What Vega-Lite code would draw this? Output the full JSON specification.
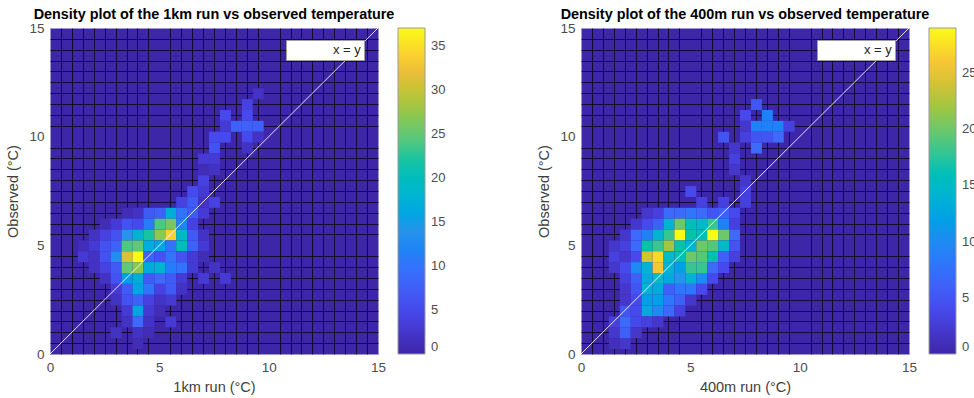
{
  "$schema": "https://vega.github.io/schema/vega-lite/v6.json",
  "padding": {"left": 5, "top": 6, "right": 0, "bottom": 0},
  "background": "white",
  "config": {
    "font": "Liberation Sans",
    "view": {"fill": "#3e26a8", "stroke": "#9c98d0", "strokeWidth": 1},
    "axis": {
      "values": [0, 5, 10, 15, 0.25, 0.75, 1.25, 1.75, 2.25, 2.75, 3.25, 3.75, 4.25, 4.75, 5.25, 5.75, 6.25, 6.75, 7.25, 7.75, 8.25, 8.75, 9.25, 9.75, 10.25, 10.75, 11.25, 11.75, 12.25, 12.75, 13.25, 13.75, 14.25, 14.75],
      "labelExpr": "datum.value % 5 === 0 ? format(datum.value, 'd') : ''",
      "ticks": false,
      "domain": false,
      "grid": true,
      "gridColor": "black",
      "gridWidth": 1,
      "gridOpacity": {"condition": {"test": "datum.value % 5 === 0", "value": 0}, "value": 0.7},
      "zindex": 1,
      "labelFlush": false,
      "labelOverlap": false,
      "labelBound": false,
      "labelFontSize": 13.5,
      "labelColor": "#4d4d4d",
      "labelPadding": 6,
      "titleFontSize": 14.5,
      "titleFontWeight": "normal",
      "titleColor": "#404040"
    },
    "axisX": {"titlePadding": 7},
    "axisY": {"titlePadding": 8},
    "title": {"fontSize": 14.4, "fontWeight": "bold", "color": "black", "anchor": "middle", "offset": -1},
    "legend": {"labelFontSize": 13, "labelColor": "#4d4d4d"}
  },
  "datasets": {
    "km": [
      {"x": 9.5, "y": 12, "n": 2},
      {"x": 9, "y": 11.5, "n": 4},
      {"x": 8, "y": 11, "n": 5}, {"x": 9, "y": 11, "n": 5},
      {"x": 8, "y": 10.5, "n": 3}, {"x": 8.5, "y": 10.5, "n": 8}, {"x": 9, "y": 10.5, "n": 8}, {"x": 9.5, "y": 10.5, "n": 8},
      {"x": 7.5, "y": 10, "n": 5}, {"x": 8, "y": 10, "n": 5}, {"x": 9, "y": 10, "n": 5}, {"x": 9.5, "y": 10, "n": 2},
      {"x": 7.5, "y": 9.5, "n": 6}, {"x": 9, "y": 9.5, "n": 2},
      {"x": 7, "y": 9, "n": 3}, {"x": 7.5, "y": 9, "n": 3},
      {"x": 7, "y": 8.5, "n": 1}, {"x": 7.5, "y": 8.5, "n": 2},
      {"x": 7, "y": 8, "n": 4},
      {"x": 6.5, "y": 7.5, "n": 5}, {"x": 7, "y": 7.5, "n": 3},
      {"x": 6, "y": 7, "n": 4}, {"x": 6.5, "y": 7, "n": 7}, {"x": 7, "y": 7, "n": 2}, {"x": 7.5, "y": 7, "n": 4},
      {"x": 3.5, "y": 6.5, "n": 1}, {"x": 4, "y": 6.5, "n": 2}, {"x": 4.5, "y": 6.5, "n": 7}, {"x": 5, "y": 6.5, "n": 8}, {"x": 5.5, "y": 6.5, "n": 17}, {"x": 6, "y": 6.5, "n": 10}, {"x": 6.5, "y": 6.5, "n": 7}, {"x": 7, "y": 6.5, "n": 3},
      {"x": 2.5, "y": 6, "n": 1}, {"x": 3, "y": 6, "n": 3}, {"x": 3.5, "y": 6, "n": 6}, {"x": 4, "y": 6, "n": 5}, {"x": 4.5, "y": 6, "n": 11}, {"x": 5, "y": 6, "n": 24}, {"x": 5.5, "y": 6, "n": 26}, {"x": 6, "y": 6, "n": 12}, {"x": 6.5, "y": 6, "n": 4},
      {"x": 2, "y": 5.5, "n": 2}, {"x": 2.5, "y": 5.5, "n": 4}, {"x": 3, "y": 5.5, "n": 6}, {"x": 3.5, "y": 5.5, "n": 14}, {"x": 4, "y": 5.5, "n": 18}, {"x": 4.5, "y": 5.5, "n": 22}, {"x": 5, "y": 5.5, "n": 27}, {"x": 5.5, "y": 5.5, "n": 34}, {"x": 6, "y": 5.5, "n": 19}, {"x": 6.5, "y": 5.5, "n": 7}, {"x": 7, "y": 5.5, "n": 2},
      {"x": 1.5, "y": 5, "n": 1}, {"x": 2, "y": 5, "n": 3}, {"x": 2.5, "y": 5, "n": 6}, {"x": 3, "y": 5, "n": 8}, {"x": 3.5, "y": 5, "n": 24}, {"x": 4, "y": 5, "n": 25}, {"x": 4.5, "y": 5, "n": 17}, {"x": 5, "y": 5, "n": 16}, {"x": 5.5, "y": 5, "n": 10}, {"x": 6, "y": 5, "n": 20}, {"x": 6.5, "y": 5, "n": 8}, {"x": 7, "y": 5, "n": 3},
      {"x": 1.5, "y": 4.5, "n": 3}, {"x": 2, "y": 4.5, "n": 2}, {"x": 2.5, "y": 4.5, "n": 6}, {"x": 3, "y": 4.5, "n": 13}, {"x": 3.5, "y": 4.5, "n": 31}, {"x": 4, "y": 4.5, "n": 37}, {"x": 4.5, "y": 4.5, "n": 8}, {"x": 5, "y": 4.5, "n": 6}, {"x": 5.5, "y": 4.5, "n": 10}, {"x": 6, "y": 4.5, "n": 6}, {"x": 6.5, "y": 4.5, "n": 3}, {"x": 7, "y": 4.5, "n": 1},
      {"x": 2, "y": 4, "n": 2}, {"x": 2.5, "y": 4, "n": 4}, {"x": 3, "y": 4, "n": 7}, {"x": 3.5, "y": 4, "n": 25}, {"x": 4, "y": 4, "n": 27}, {"x": 4.5, "y": 4, "n": 17}, {"x": 5, "y": 4, "n": 18}, {"x": 5.5, "y": 4, "n": 11}, {"x": 6, "y": 4, "n": 10}, {"x": 6.5, "y": 4, "n": 3}, {"x": 7.5, "y": 4, "n": 2},
      {"x": 2.5, "y": 3.5, "n": 2}, {"x": 3, "y": 3.5, "n": 6}, {"x": 3.5, "y": 3.5, "n": 15}, {"x": 4, "y": 3.5, "n": 17}, {"x": 4.5, "y": 3.5, "n": 7}, {"x": 5, "y": 3.5, "n": 9}, {"x": 5.5, "y": 3.5, "n": 7}, {"x": 6, "y": 3.5, "n": 3}, {"x": 7, "y": 3.5, "n": 3}, {"x": 8, "y": 3.5, "n": 3},
      {"x": 3, "y": 3, "n": 3}, {"x": 3.5, "y": 3, "n": 7}, {"x": 4, "y": 3, "n": 16}, {"x": 4.5, "y": 3, "n": 10}, {"x": 5, "y": 3, "n": 4}, {"x": 5.5, "y": 3, "n": 7}, {"x": 6, "y": 3, "n": 2},
      {"x": 3, "y": 2.5, "n": 2}, {"x": 3.5, "y": 2.5, "n": 6}, {"x": 4, "y": 2.5, "n": 8}, {"x": 4.5, "y": 2.5, "n": 4}, {"x": 5, "y": 2.5, "n": 2}, {"x": 5.5, "y": 2.5, "n": 3},
      {"x": 3.5, "y": 2, "n": 3}, {"x": 4, "y": 2, "n": 16}, {"x": 4.5, "y": 2, "n": 3}, {"x": 5, "y": 2, "n": 1},
      {"x": 3.5, "y": 1.5, "n": 2}, {"x": 4, "y": 1.5, "n": 9}, {"x": 4.5, "y": 1.5, "n": 2}, {"x": 5.5, "y": 1.5, "n": 3},
      {"x": 3, "y": 1, "n": 2}, {"x": 4, "y": 1, "n": 2}, {"x": 4.5, "y": 1, "n": 1},
      {"x": 4, "y": 0.5, "n": 1}
    ],
    "m": [
      {"x": 8, "y": 11.5, "n": 5},
      {"x": 7.5, "y": 11, "n": 4}, {"x": 8.5, "y": 11, "n": 9},
      {"x": 7.5, "y": 10.5, "n": 2}, {"x": 8, "y": 10.5, "n": 9}, {"x": 8.5, "y": 10.5, "n": 9}, {"x": 9, "y": 10.5, "n": 9}, {"x": 9.5, "y": 10.5, "n": 3},
      {"x": 6.5, "y": 10, "n": 5}, {"x": 7.5, "y": 10, "n": 3}, {"x": 8, "y": 10, "n": 5}, {"x": 8.5, "y": 10, "n": 5}, {"x": 9, "y": 10, "n": 7},
      {"x": 7, "y": 9.5, "n": 2}, {"x": 8, "y": 9.5, "n": 7},
      {"x": 7, "y": 9, "n": 3},
      {"x": 7, "y": 8.5, "n": 2},
      {"x": 7.5, "y": 8, "n": 2},
      {"x": 5, "y": 7.5, "n": 4}, {"x": 7.5, "y": 7.5, "n": 3},
      {"x": 5.5, "y": 7, "n": 3}, {"x": 6.5, "y": 7, "n": 3}, {"x": 7.5, "y": 7, "n": 3},
      {"x": 3, "y": 6.5, "n": 2}, {"x": 3.5, "y": 6.5, "n": 3}, {"x": 4, "y": 6.5, "n": 7}, {"x": 4.5, "y": 6.5, "n": 7}, {"x": 5, "y": 6.5, "n": 8}, {"x": 5.5, "y": 6.5, "n": 7}, {"x": 6, "y": 6.5, "n": 5}, {"x": 6.5, "y": 6.5, "n": 6}, {"x": 7, "y": 6.5, "n": 4},
      {"x": 2.5, "y": 6, "n": 2}, {"x": 3, "y": 6, "n": 4}, {"x": 3.5, "y": 6, "n": 6}, {"x": 4, "y": 6, "n": 14}, {"x": 4.5, "y": 6, "n": 20}, {"x": 5, "y": 6, "n": 16}, {"x": 5.5, "y": 6, "n": 15}, {"x": 6, "y": 6, "n": 18}, {"x": 6.5, "y": 6, "n": 9}, {"x": 7, "y": 6, "n": 3},
      {"x": 2, "y": 5.5, "n": 2}, {"x": 2.5, "y": 5.5, "n": 7}, {"x": 3, "y": 5.5, "n": 9}, {"x": 3.5, "y": 5.5, "n": 14}, {"x": 4, "y": 5.5, "n": 18}, {"x": 4.5, "y": 5.5, "n": 29}, {"x": 5, "y": 5.5, "n": 17}, {"x": 5.5, "y": 5.5, "n": 16}, {"x": 6, "y": 5.5, "n": 29}, {"x": 6.5, "y": 5.5, "n": 20}, {"x": 7, "y": 5.5, "n": 7},
      {"x": 1.5, "y": 5, "n": 2}, {"x": 2, "y": 5, "n": 3}, {"x": 2.5, "y": 5, "n": 7}, {"x": 3, "y": 5, "n": 17}, {"x": 3.5, "y": 5, "n": 18}, {"x": 4, "y": 5, "n": 22}, {"x": 4.5, "y": 5, "n": 17}, {"x": 5, "y": 5, "n": 14}, {"x": 5.5, "y": 5, "n": 20}, {"x": 6, "y": 5, "n": 19}, {"x": 6.5, "y": 5, "n": 15}, {"x": 7, "y": 5, "n": 5},
      {"x": 1.5, "y": 4.5, "n": 3}, {"x": 2, "y": 4.5, "n": 2}, {"x": 2.5, "y": 4.5, "n": 4}, {"x": 3, "y": 4.5, "n": 24}, {"x": 3.5, "y": 4.5, "n": 27}, {"x": 4, "y": 4.5, "n": 15}, {"x": 4.5, "y": 4.5, "n": 16}, {"x": 5, "y": 4.5, "n": 20}, {"x": 5.5, "y": 4.5, "n": 19}, {"x": 6, "y": 4.5, "n": 16}, {"x": 6.5, "y": 4.5, "n": 6}, {"x": 7, "y": 4.5, "n": 3},
      {"x": 1.5, "y": 4, "n": 2}, {"x": 2, "y": 4, "n": 4}, {"x": 2.5, "y": 4, "n": 10}, {"x": 3, "y": 4, "n": 14}, {"x": 3.5, "y": 4, "n": 26}, {"x": 4, "y": 4, "n": 14}, {"x": 4.5, "y": 4, "n": 12}, {"x": 5, "y": 4, "n": 18}, {"x": 5.5, "y": 4, "n": 18}, {"x": 6, "y": 4, "n": 7}, {"x": 6.5, "y": 4, "n": 4},
      {"x": 2, "y": 3.5, "n": 3}, {"x": 2.5, "y": 3.5, "n": 6}, {"x": 3, "y": 3.5, "n": 13}, {"x": 3.5, "y": 3.5, "n": 15}, {"x": 4, "y": 3.5, "n": 13}, {"x": 4.5, "y": 3.5, "n": 11}, {"x": 5, "y": 3.5, "n": 14}, {"x": 5.5, "y": 3.5, "n": 10}, {"x": 6, "y": 3.5, "n": 4},
      {"x": 2, "y": 3, "n": 2}, {"x": 2.5, "y": 3, "n": 5}, {"x": 3, "y": 3, "n": 14}, {"x": 3.5, "y": 3, "n": 13}, {"x": 4, "y": 3, "n": 6}, {"x": 4.5, "y": 3, "n": 8}, {"x": 5, "y": 3, "n": 8}, {"x": 5.5, "y": 3, "n": 4},
      {"x": 2, "y": 2.5, "n": 2}, {"x": 2.5, "y": 2.5, "n": 4}, {"x": 3, "y": 2.5, "n": 12}, {"x": 3.5, "y": 2.5, "n": 12}, {"x": 4, "y": 2.5, "n": 8}, {"x": 4.5, "y": 2.5, "n": 6}, {"x": 5, "y": 2.5, "n": 2},
      {"x": 2, "y": 2, "n": 5}, {"x": 2.5, "y": 2, "n": 4}, {"x": 3, "y": 2, "n": 13}, {"x": 3.5, "y": 2, "n": 10}, {"x": 4, "y": 2, "n": 7}, {"x": 4.5, "y": 2, "n": 3},
      {"x": 1.5, "y": 1.5, "n": 3}, {"x": 2, "y": 1.5, "n": 7}, {"x": 2.5, "y": 1.5, "n": 4}, {"x": 3, "y": 1.5, "n": 3}, {"x": 3.5, "y": 1.5, "n": 2},
      {"x": 1.5, "y": 1, "n": 2}, {"x": 2, "y": 1, "n": 6}, {"x": 2.5, "y": 1, "n": 2},
      {"x": 1.5, "y": 0.5, "n": 1}, {"x": 2, "y": 0.5, "n": 2}
    ],
    "diag": [{"x": 0, "y": 0}, {"x": 15, "y": 15}]
  },
  "spacing": 89,
  "resolve": {"scale": {"color": "independent", "stroke": "independent"}, "legend": {"color": "independent", "stroke": "independent"}},
  "hconcat": [
    {
      "width": 328, "height": 326,
      "title": "Density plot of the 1km run vs observed temperature",
      "layer": [
        {
          "data": {"name": "km"},
          "mark": {"type": "rect", "clip": true},
          "encoding": {
            "x": {"field": "x", "type": "quantitative", "bin": {"step": 0.5, "anchor": 0.25, "extent": [-0.25, 15.25], "nice": false}, "scale": {"domain": [0, 15], "nice": false}, "title": "1km run (°C)"},
            "y": {"field": "y", "type": "quantitative", "bin": {"step": 0.5, "anchor": 0.25, "extent": [-0.25, 15.25], "nice": false}, "scale": {"domain": [0, 15], "nice": false}, "title": "Observed (°C)"},
            "color": {
              "field": "n", "type": "quantitative",
              "scale": {"domain": [0, 4.625, 9.25, 13.875, 18.5, 23.125, 27.75, 32.375, 37], "range": ["#3e26a8", "#4746eb", "#3d6cfc", "#2a93ec", "#13b7cc", "#3cc68f", "#9cc644", "#f4bc3a", "#f9fb15"]},
              "legend": {"type": "gradient", "title": null, "values": [0, 5, 10, 15, 20, 25, 30, 35], "gradientLength": 326, "gradientThickness": 27, "offset": 20, "gradientStrokeColor": "#9a9a9a", "gradientStrokeWidth": 1, "labelOffset": 6, "labelBaseline": "middle"}
            }
          }
        },
        {
          "data": {"name": "diag"},
          "mark": {"type": "line", "strokeWidth": 1, "opacity": 0.85, "clip": true},
          "encoding": {
            "x": {"field": "x", "type": "quantitative", "scale": {"domain": [0, 15], "nice": false}},
            "y": {"field": "y", "type": "quantitative", "scale": {"domain": [0, 15], "nice": false}},
            "stroke": {"datum": "x = y", "scale": {"range": ["white"]}, "legend": {"orient": "none", "legendX": 236, "legendY": 12, "title": null, "fillColor": "white", "strokeColor": "#a0a0a0", "padding": 3, "symbolType": "stroke", "symbolSize": 100, "symbolStrokeWidth": 1, "labelOffset": 31, "labelFontSize": 13, "labelColor": "#262626"}}
          }
        }
      ]
    },
    {
      "width": 328, "height": 326,
      "title": "Density plot of the 400m run vs observed temperature",
      "layer": [
        {
          "data": {"name": "m"},
          "mark": {"type": "rect", "clip": true},
          "encoding": {
            "x": {"field": "x", "type": "quantitative", "bin": {"step": 0.5, "anchor": 0.25, "extent": [-0.25, 15.25], "nice": false}, "scale": {"domain": [0, 15], "nice": false}, "title": "400m run (°C)"},
            "y": {"field": "y", "type": "quantitative", "bin": {"step": 0.5, "anchor": 0.25, "extent": [-0.25, 15.25], "nice": false}, "scale": {"domain": [0, 15], "nice": false}, "title": "Observed (°C)"},
            "color": {
              "field": "n", "type": "quantitative",
              "scale": {"domain": [0, 3.625, 7.25, 10.875, 14.5, 18.125, 21.75, 25.375, 29], "range": ["#3e26a8", "#4746eb", "#3d6cfc", "#2a93ec", "#13b7cc", "#3cc68f", "#9cc644", "#f4bc3a", "#f9fb15"]},
              "legend": {"type": "gradient", "title": null, "values": [0, 5, 10, 15, 20, 25], "gradientLength": 326, "gradientThickness": 27, "offset": 20, "gradientStrokeColor": "#9a9a9a", "gradientStrokeWidth": 1, "labelOffset": 6, "labelBaseline": "middle"}
            }
          }
        },
        {
          "data": {"name": "diag"},
          "mark": {"type": "line", "strokeWidth": 1, "opacity": 0.85, "clip": true},
          "encoding": {
            "x": {"field": "x", "type": "quantitative", "scale": {"domain": [0, 15], "nice": false}},
            "y": {"field": "y", "type": "quantitative", "scale": {"domain": [0, 15], "nice": false}},
            "stroke": {"datum": "x = y", "scale": {"range": ["white"]}, "legend": {"orient": "none", "legendX": 236, "legendY": 12, "title": null, "fillColor": "white", "strokeColor": "#a0a0a0", "padding": 3, "symbolType": "stroke", "symbolSize": 100, "symbolStrokeWidth": 1, "labelOffset": 31, "labelFontSize": 13, "labelColor": "#262626"}}
          }
        }
      ]
    }
  ]
}
